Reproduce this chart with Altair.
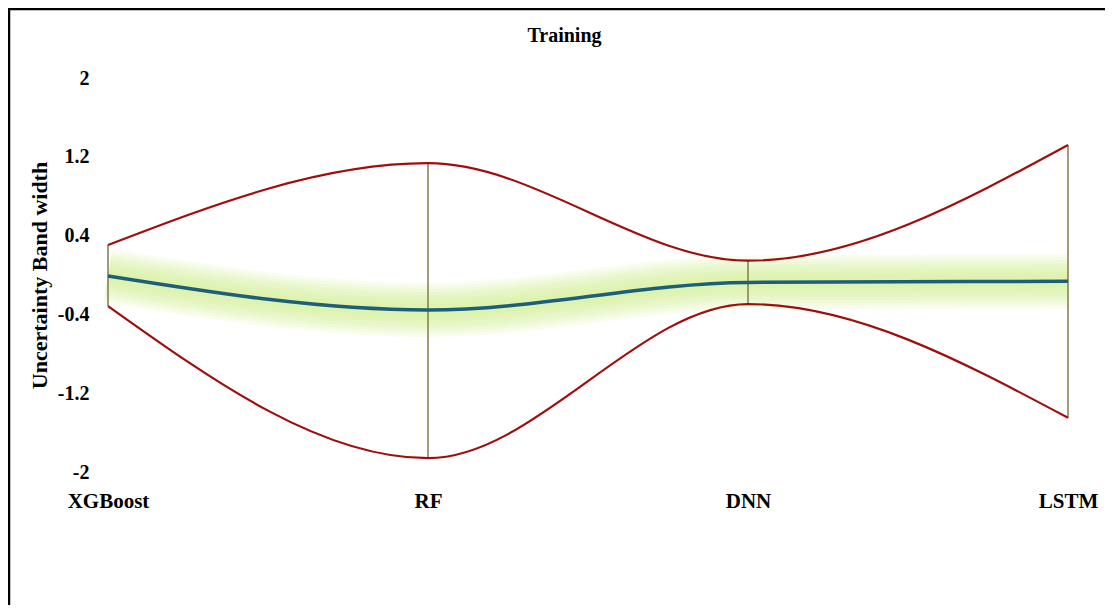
import altair as alt
import pandas as pd

models = ["XGBoost", "RF", "DNN", "LSTM"]
upper = [0.305, 1.135, 0.145, 1.32]
lower = [-0.315, -1.86, -0.295, -1.45]
mean = [-0.01, -0.355, -0.075, -0.064]
y_ticks = [-2, -1.2, -0.4, 0.4, 1.2, 2]

df = pd.DataFrame({"model": models, "upper": upper, "lower": lower, "mean": mean})

FONT = "Liberation Serif"
W, H = 960, 394

x_enc = alt.X(
    "model:N",
    sort=models,
    scale=alt.Scale(type="point", padding=0),
    axis=alt.Axis(title=None, labelAngle=0, labelPadding=18, labelFontSize=21),
)
y_scale = alt.Scale(domain=[-2, 2], nice=False, zero=False)
y_axis = alt.Axis(
    values=y_ticks,
    labelExpr="'' + datum.value",
    labelPadding=19,
    labelFontSize=20,
    title="Uncertainty Band width",
    titleFontSize=22,
    titleX=-69,
    titleY=H / 2,
    titleAngle=-90,
    titleAlign="center",
    titleBaseline="middle",
)

base = alt.Chart(df)

border = alt.Chart(pd.DataFrame({"a": [0]})).mark_rect(
    fill="transparent", stroke="black", strokeWidth=2.5
).encode(
    x=alt.value(-99), x2=alt.value(1100), y=alt.value(-69), y2=alt.value(700)
)

rules = base.mark_rule(color="#857a4a", strokeWidth=1.5).encode(
    x=x_enc,
    y=alt.Y("lower:Q", scale=y_scale, axis=y_axis),
    y2="upper:Q",
)

up_line = base.mark_line(color="#a00d0d", strokeWidth=2.2, interpolate="monotone").encode(
    x=x_enc, y=alt.Y("upper:Q", scale=y_scale, axis=y_axis)
)
low_line = base.mark_line(color="#a00d0d", strokeWidth=2.2, interpolate="monotone").encode(
    x=x_enc, y=alt.Y("lower:Q", scale=y_scale, axis=y_axis)
)

glows = []
for w in [54, 48, 42, 36, 30, 24, 18, 12]:
    glows.append(
        base.mark_line(
            color="#d2f08a", strokeWidth=w, opacity=0.13, interpolate="monotone", strokeCap="butt"
        ).encode(x=x_enc, y=alt.Y("mean:Q", scale=y_scale, axis=y_axis))
    )

mean_line = base.mark_line(color="#1d5f78", strokeWidth=3.5, interpolate="monotone").encode(
    x=x_enc, y=alt.Y("mean:Q", scale=y_scale, axis=y_axis)
)

title = alt.Chart(pd.DataFrame({"t": ["Training"]})).mark_text(
    font=FONT, fontSize=20, fontWeight="bold", color="black", align="center", baseline="alphabetic"
).encode(x=alt.value(456.5), y=alt.value(-36), text="t:N")

chart = alt.layer(border, *glows, rules, up_line, low_line, mean_line, title).properties(
    width=W,
    height=H,
    padding={"left": 100, "top": 70, "right": 37, "bottom": 133},
    autosize=alt.AutoSizeParams(type="none"),
    background="white",
).configure_view(stroke=None).configure_axis(
    domain=False,
    ticks=False,
    grid=False,
    labelFont=FONT,
    labelFontWeight="bold",
    labelColor="black",
    titleFont=FONT,
    titleFontWeight="bold",
    titleColor="black",
)

chart.save("out.html", embed_options={"renderer": "svg", "actions": False})
